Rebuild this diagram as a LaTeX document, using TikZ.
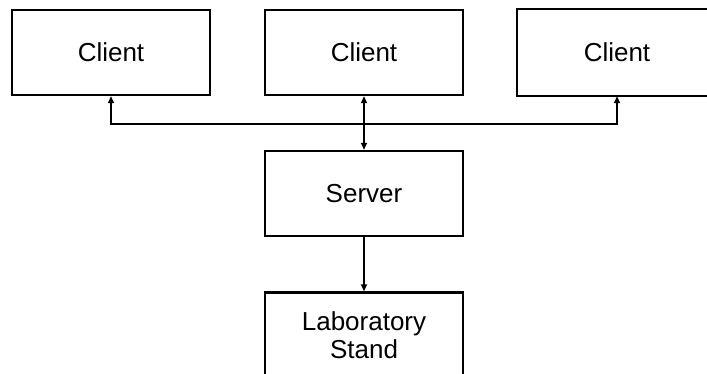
\documentclass[tikz,border=0pt]{standalone}
\usepackage{fontspec}
\setmainfont{Liberation Sans}
\usetikzlibrary{arrows.meta}
\begin{document}
\begin{tikzpicture}[x=1pt,y=1pt,
  unit/.style={draw=black, line width=2.4pt, minimum width=198pt, minimum height=85pt,
    inner sep=0pt, align=center, font=\fontsize{26}{28}\selectfont},
  tip/.style={Triangle[length=7pt,width=6pt]},
  link/.style={line width=2.4pt, arrows={Triangle[length=7pt,width=6pt]-Triangle[length=7pt,width=6pt]}},
  down/.style={line width=2.4pt, -{Triangle[length=7pt,width=6pt]}}]
  \useasboundingbox (0,0) rectangle (707,374);
  \clip (0,0) rectangle (707,374);
  % three clients along the top; the last one runs past the right edge
  \node[unit] (c1) at (111,321.5) {Client};
  \node[unit] (c2) at (364,321.5) {Client};
  \node[unit, draw=none] (c3) at (617,321.5) {Client};
  \draw[line width=2.4pt] ([xshift=40pt]c3.north east) -- (c3.north west)
    -- (c3.south west) -- ([xshift=40pt]c3.south east);
  % server and stand below
  \node[unit] (srv) at (364,180.5) {Server};
  \node[unit] (lab) at (364,39) {Laboratory\\Stand};
  % shared bus joining the outer clients
  \coordinate (bus) at (364,250);
  \draw[link] (c1.south) |- (bus) -| (c3.south);
  \draw[link] (c2.south) -- (srv.north);
  \draw[down] (srv.south) -- (lab.north);
\end{tikzpicture}
\end{document}
